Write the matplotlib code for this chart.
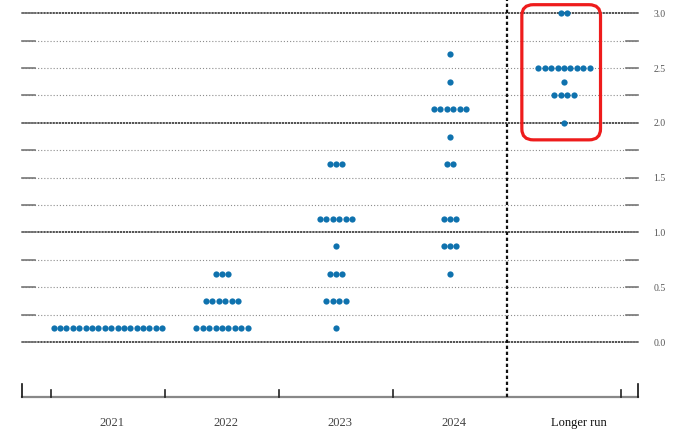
import matplotlib
matplotlib.use('Agg')
import matplotlib.pyplot as plt
from matplotlib.patches import FancyBboxPatch

# dot plot data: (category index, rate level, number of participants)
categories = ['2021', '2022', '2023', '2024', 'Longer run']
rates_2021 = [(0.125, 18)]
rates_2022 = [(0.125, 9), (0.375, 6), (0.625, 3)]
rates_2023 = [(0.125, 1), (0.375, 4), (0.625, 3), (0.875, 1), (1.125, 6), (1.625, 3)]
rates_2024 = [(0.625, 1), (0.875, 3), (1.125, 3), (1.625, 2), (1.875, 1),
              (2.125, 6), (2.375, 1), (2.625, 1)]
rates_longer = [(2.0, 1), (2.25, 4), (2.375, 1), (2.5, 9), (3.0, 2)]
all_rates = [rates_2021, rates_2022, rates_2023, rates_2024, rates_longer]
y_ticks = [0.0, 0.5, 1.0, 1.5, 2.0, 2.5, 3.0]

dot_color = '#0f72ae'
dot_gap = 0.056

fig = plt.figure(figsize=(6.85, 4.39), dpi=100)
ax = fig.add_axes([0, 0, 1, 1])
ax.set_xlim(-0.947, 5.061)
ax.set_ylim(-0.875, 3.13)
ax.axis('off')

x_left, x_right = -0.754, 4.65

# horizontal grid lines every 0.25
for k in range(13):
    lvl = k * 0.25
    if k % 4 == 0:
        ax.plot([x_left, x_right], [lvl, lvl], color='#222222', lw=1.1,
                linestyle=(0, (1.5, 0.5)), zorder=1)
    else:
        ax.plot([x_left, x_right], [lvl, lvl], color='#8c8c8c', lw=0.8,
                linestyle=(0, (1, 1.8)), zorder=1)
    # short solid ticks at both ends
    ax.plot([x_left, x_left + 0.115], [lvl, lvl], color='#777777', lw=1.2, zorder=2)
    ax.plot([x_right - 0.105, x_right], [lvl, lvl], color='#777777', lw=1.2, zorder=2)

# right-hand labels
for t in y_ticks:
    ax.text(4.84, t, f'{t:.1f}', ha='center', va='center', fontsize=7,
            color='#555555', family='Liberation Serif')

# dots
for i, rows in enumerate(all_rates):
    for lvl, n in rows:
        xs = [i + (j - (n - 1) / 2) * dot_gap for j in range(n)]
        ax.plot(xs, [lvl] * n, 'o', color=dot_color, markersize=4.5,
                markeredgewidth=0, zorder=4)

# bottom axis
ax.plot([x_left, x_right], [-0.5, -0.5], color='#888888', lw=1.6, zorder=2)
for b in [-0.5, 0.5, 1.5, 2.5, 4.5]:
    ax.plot([b, b], [-0.5, -0.436], color='#222222', lw=1.2, zorder=3)
for b in [x_left, x_right]:
    ax.plot([b, b], [-0.5, -0.381], color='#111111', lw=1.2, zorder=3)

# separator before longer run
ax.plot([3.5, 3.5], [-0.5, 3.13], color='#111111', lw=1.6,
        linestyle=(0, (1.5, 1.2)), zorder=3)

# category labels
for i, c in enumerate(categories):
    col = '#111111' if c == 'Longer run' else '#444444'
    shift = 0.13 if c == 'Longer run' else 0.035
    ax.text(i + shift, -0.73, c, ha='center', va='center', fontsize=9, color=col,
            family='Liberation Serif')

# highlight box
box = FancyBboxPatch((3.72, 1.935), 0.51, 1.053,
                     boxstyle='round,pad=0.09,rounding_size=0.1',
                     fill=False, edgecolor='#ee1c1c', lw=2.3, zorder=5)
ax.add_patch(box)

fig.savefig('out.png', dpi=100)
